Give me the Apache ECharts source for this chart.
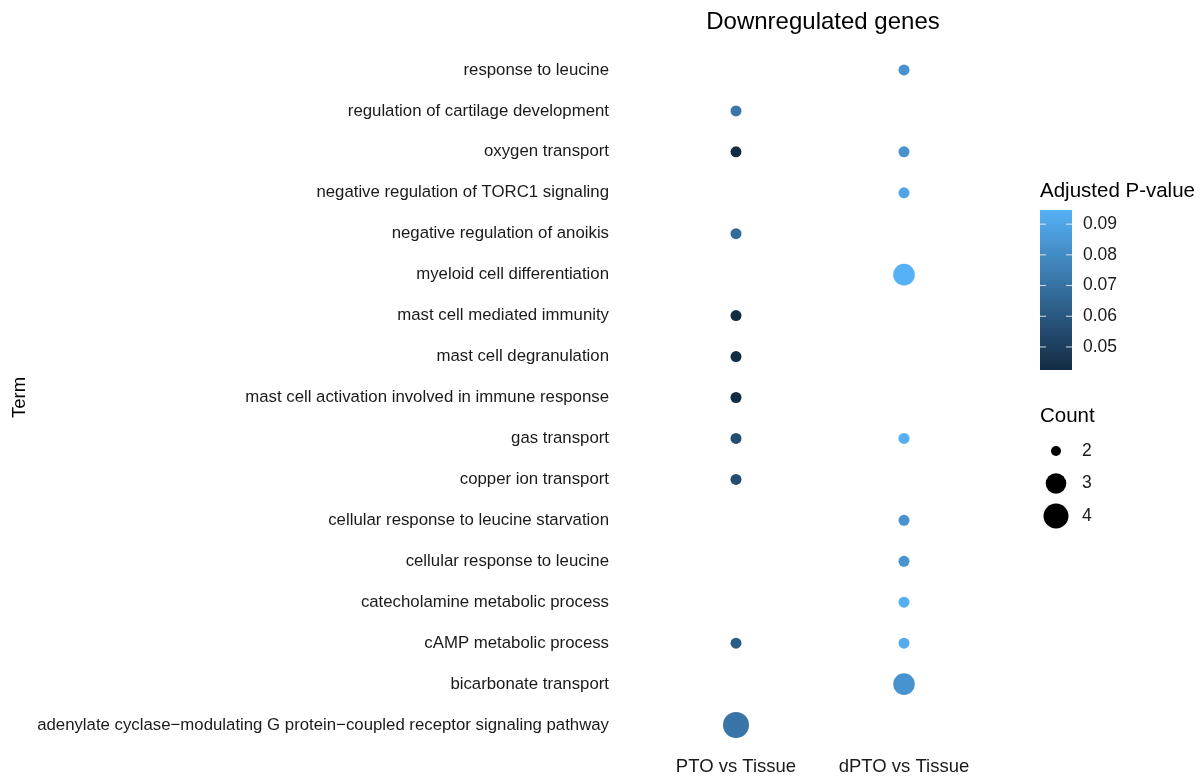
<!DOCTYPE html>
<html>
<head>
<meta charset="utf-8">
<title>Downregulated genes</title>
<script src="https://cdn.jsdelivr.net/npm/echarts@6/dist/echarts.min.js"></script>
<style>
  html, body { margin: 0; padding: 0; background: #ffffff; }
  #chart { width: 1203px; height: 777px; }
</style>
</head>
<body>
<div id="chart"></div>
<script>
// GO terms, listed top to bottom
const terms = [
  'response to leucine',
  'regulation of cartilage development',
  'oxygen transport',
  'negative regulation of TORC1 signaling',
  'negative regulation of anoikis',
  'myeloid cell differentiation',
  'mast cell mediated immunity',
  'mast cell degranulation',
  'mast cell activation involved in immune response',
  'gas transport',
  'copper ion transport',
  'cellular response to leucine starvation',
  'cellular response to leucine',
  'catecholamine metabolic process',
  'cAMP metabolic process',
  'bicarbonate transport',
  'adenylate cyclase\u2212modulating G protein\u2212coupled receptor signaling pathway'
];

const comparisons = ['PTO vs Tissue', 'dPTO vs Tissue'];

// adjusted p-values and gene counts per term (null = term not enriched)
const ptoPadj = [null, 0.072, 0.0425, null, 0.0675, null, 0.0425, 0.0425, 0.0425, 0.0555, 0.0555, null, null, null, 0.062, null, 0.071];
const ptoCount = [null, 2, 2, null, 2, null, 2, 2, 2, 2, 2, null, null, null, 2, null, 4];
const dptoPadj = [0.083, null, 0.083, 0.090, null, 0.0946, null, null, null, 0.094, null, 0.083, 0.083, 0.094, 0.092, 0.083, null];
const dptoCount = [2, null, 2, 2, null, 3, null, null, null, 2, null, 2, 2, 2, 2, 3, null];

// colour bar range and tick labels
const padjMin = 0.0425;
const padjMax = 0.0946;
const padjTicks = [0.05, 0.06, 0.07, 0.08, 0.09];

// size legend entries
const countLevels = [2, 3, 4];

const FONT = '"Liberation Sans", Arial, Helvetica, sans-serif';
const LOW = '#132B43';
const HIGH = '#56B1F7';

// area-style size scale over the count range
function dotSize(c) {
  const t = (c - 2) / 2;
  return 3 * (1 + 5 * Math.sqrt(t)) + 8;
}

function buildPoints(padj, count, col) {
  const pts = [];
  padj.forEach((p, i) => {
    if (p !== null) pts.push([comparisons[col], terms[i], p, count[i]]);
  });
  return pts;
}

const points = buildPoints(ptoPadj, ptoCount, 0).concat(buildPoints(dptoPadj, dptoCount, 1));

const chart = echarts.init(document.getElementById('chart'), null, { renderer: 'canvas' });

const option = {
  backgroundColor: '#ffffff',
  animation: false,
  textStyle: { fontFamily: FONT },
  title: [
    {
      text: 'Downregulated genes',
      left: 823, top: 10, textAlign: 'center', padding: 0,
      textStyle: { fontFamily: FONT, fontSize: 24, fontWeight: 'normal', color: '#000' }
    },
    {
      text: 'Adjusted P-value',
      left: 1040, top: 181, padding: 0,
      textStyle: { fontFamily: FONT, fontSize: 20.5, fontWeight: 'normal', color: '#000' }
    },
    {
      text: 'Count',
      left: 1040, top: 406, padding: 0,
      textStyle: { fontFamily: FONT, fontSize: 20.5, fontWeight: 'normal', color: '#000' }
    }
  ],
  visualMap: {
    show: false,
    type: 'continuous',
    dimension: 2,
    seriesIndex: 0,
    min: padjMin,
    max: padjMax,
    inRange: { color: [LOW, HIGH] }
  },
  grid: [
    { left: 652, width: 336, top: 49.5, height: 696 },
    { left: 1040, width: 32, top: 210, height: 160 },
    { left: 1040, width: 32, top: 434.75, height: 97.5 }
  ],
  xAxis: [
    {
      gridIndex: 0, type: 'category', data: comparisons, boundaryGap: true,
      axisLine: { show: false }, axisTick: { show: false }, splitLine: { show: false },
      axisLabel: { interval: 0, hideOverlap: false, fontFamily: FONT, fontSize: 18.5, color: '#1a1a1a', margin: 12 }
    },
    { gridIndex: 1, type: 'value', min: 0, max: 1, show: false },
    { gridIndex: 2, type: 'category', data: ['n'], show: false }
  ],
  yAxis: [
    {
      gridIndex: 0, type: 'category', data: terms, inverse: true, boundaryGap: true,
      axisLine: { show: false }, axisTick: { show: false }, splitLine: { show: false },
      axisLabel: { interval: 0, fontFamily: FONT, fontSize: 16.8, color: '#1a1a1a', margin: 43 },
      name: 'Term', nameLocation: 'middle', nameRotate: 90, nameGap: 623,
      nameTextStyle: { fontFamily: FONT, fontSize: 18.5, color: '#000' }
    },
    {
      gridIndex: 1, type: 'value', min: padjMin, max: padjMax, position: 'right',
      axisLine: { show: false }, axisTick: { show: false }, splitLine: { show: false },
      axisLabel: {
        customValues: padjTicks, margin: 11,
        fontFamily: FONT, fontSize: 17.5, color: '#1a1a1a',
        formatter: v => v.toFixed(2)
      }
    },
    {
      gridIndex: 2, type: 'category', data: countLevels.map(String), inverse: true, position: 'right',
      axisLine: { show: false }, axisTick: { show: false }, splitLine: { show: false },
      axisLabel: { interval: 0, fontFamily: FONT, fontSize: 17.5, color: '#1a1a1a', margin: 10 }
    }
  ],
  series: [
    {
      type: 'scatter',
      xAxisIndex: 0, yAxisIndex: 0,
      data: points,
      encode: { x: 0, y: 1 },
      symbolSize: d => dotSize(d[3]),
      itemStyle: { opacity: 1 }
    },
    {
      // colour bar body
      type: 'custom',
      xAxisIndex: 1, yAxisIndex: 1,
      data: [[0, padjMin]],
      silent: true,
      renderItem: function (params, api) {
        const cs = params.coordSys;
        return {
          type: 'rect',
          shape: { x: cs.x, y: cs.y, width: cs.width, height: cs.height },
          style: {
            fill: new echarts.graphic.LinearGradient(0, 0, 0, 1, [
              { offset: 0, color: HIGH },
              { offset: 1, color: LOW }
            ])
          }
        };
      }
    },
    {
      // white tick marks on both edges of the colour bar
      type: 'custom',
      xAxisIndex: 1, yAxisIndex: 1,
      data: padjTicks.map(v => [0, v]),
      silent: true,
      renderItem: function (params, api) {
        const cs = params.coordSys;
        const y = api.coord([0, api.value(1)])[1];
        const len = 6;
        return {
          type: 'group',
          children: [
            { type: 'line', shape: { x1: cs.x, y1: y, x2: cs.x + len, y2: y }, style: { stroke: '#ffffff', lineWidth: 1, opacity: 0.8 } },
            { type: 'line', shape: { x1: cs.x + cs.width - len, y1: y, x2: cs.x + cs.width, y2: y }, style: { stroke: '#ffffff', lineWidth: 1, opacity: 0.8 } }
          ]
        };
      }
    },
    {
      // size legend
      type: 'scatter',
      xAxisIndex: 2, yAxisIndex: 2,
      data: countLevels.map(c => ['n', String(c), c]),
      symbolSize: d => dotSize(d[2]) - 1,
      itemStyle: { color: '#000000', opacity: 1 },
      silent: true
    }
  ]
};

chart.setOption(option);
</script>
</body>
</html>
